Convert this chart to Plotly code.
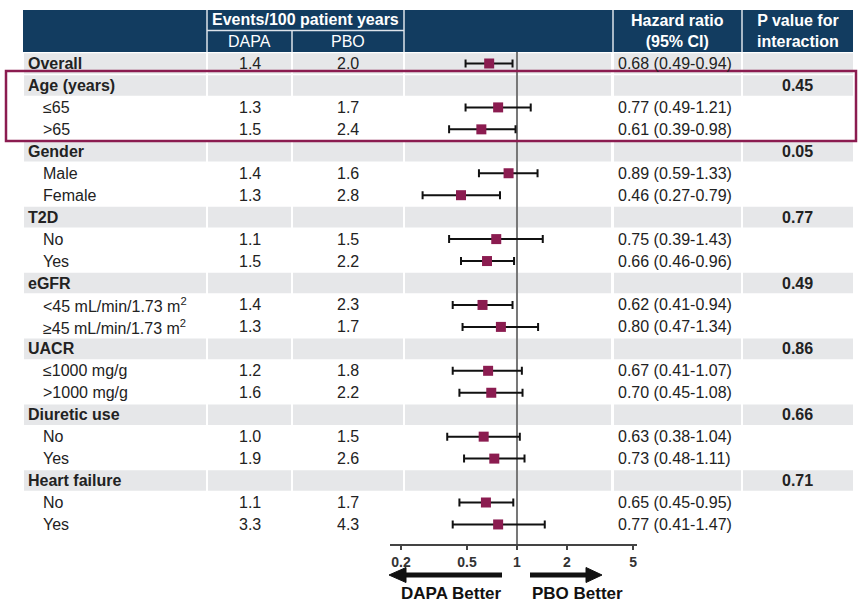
import math
import plotly.graph_objects as go

W, H = 858, 603

# ---------------- data ----------------
labels = ["Overall", "Age (years)", "≤65", "&gt;65", "Gender", "Male", "Female",
          "T2D", "No", "Yes", "eGFR", "&lt;45 mL/min/1.73 m<sup>2</sup>",
          "≥45 mL/min/1.73 m<sup>2</sup>", "UACR", "≤1000 mg/g", "&gt;1000 mg/g",
          "Diuretic use", "No", "Yes", "Heart failure", "No", "Yes"]
row_kind = ["H", "H", "S", "S", "H", "S", "S", "H", "S", "S", "H", "S", "S",
            "H", "S", "S", "H", "S", "S", "H", "S", "S"]
dapa = ["1.4", "", "1.3", "1.5", "", "1.4", "1.3", "", "1.1", "1.5", "", "1.4",
        "1.3", "", "1.2", "1.6", "", "1.0", "1.9", "", "1.1", "3.3"]
pbo = ["2.0", "", "1.7", "2.4", "", "1.6", "2.8", "", "1.5", "2.2", "", "2.3",
       "1.7", "", "1.8", "2.2", "", "1.5", "2.6", "", "1.7", "4.3"]
hr = [0.68, None, 0.77, 0.61, None, 0.89, 0.46, None, 0.75, 0.66, None, 0.62,
      0.80, None, 0.67, 0.70, None, 0.63, 0.73, None, 0.65, 0.77]
ci_lo = [0.49, None, 0.49, 0.39, None, 0.59, 0.27, None, 0.39, 0.46, None, 0.41,
         0.47, None, 0.41, 0.45, None, 0.38, 0.48, None, 0.45, 0.41]
ci_hi = [0.94, None, 1.21, 0.98, None, 1.33, 0.79, None, 1.43, 0.96, None, 0.94,
         1.34, None, 1.07, 1.08, None, 1.04, 1.11, None, 0.95, 1.47]
pval = ["", "0.45", "", "", "0.05", "", "", "0.77", "", "", "0.49", "", "",
        "0.86", "", "", "0.66", "", "", "0.71", "", ""]
tick_vals = [0.2, 0.5, 1, 2, 5]
tick_text = ["0.2", "0.5", "1", "2", "5"]

# ---------------- layout helpers ----------------
FONT = "Arial, 'Liberation Sans', sans-serif"
NAVY = "#123c60"
GRAY = "#e6e7e9"
MAROON = "#8b1c50"
TXT = "#222222"
ROW0, STEP = 63.5, 21.95
n = len(labels)


def px(p):
    return p / W


def py(p):
    return 1 - p / H


cols = [(24, 206), (208, 291), (293, 403), (405, 611), (614, 741), (743, 853)]

fig = go.Figure()

idx = [i for i in range(n) if hr[i] is not None]
fig.add_trace(go.Scatter(
    x=[hr[i] for i in idx], y=idx, mode="markers",
    marker=dict(symbol="square", size=10, color=MAROON),
    error_x=dict(type="data", symmetric=False,
                 array=[ci_hi[i] - hr[i] for i in idx],
                 arrayminus=[hr[i] - ci_lo[i] for i in idx],
                 color="#111111", thickness=2, width=4),
    hoverinfo="skip", showlegend=False))

shapes = []
# header
shapes.append(dict(type="rect", xref="paper", yref="paper", x0=px(23), x1=px(853),
                   y0=py(52), y1=py(10), fillcolor=NAVY, line_width=0, layer="below"))
for xx in (207, 404, 613, 742):
    shapes.append(dict(type="line", xref="paper", yref="paper", x0=px(xx), x1=px(xx),
                       y0=py(52), y1=py(10), line=dict(color="#dde3ea", width=1.5)))
shapes.append(dict(type="line", xref="paper", yref="paper", x0=px(207), x1=px(404),
                   y0=py(30.5), y1=py(30.5), line=dict(color="#dde3ea", width=1.5)))
shapes.append(dict(type="line", xref="paper", yref="paper", x0=px(292), x1=px(292),
                   y0=py(52), y1=py(30.5), line=dict(color="#dde3ea", width=1.5)))
# gray bands
for i in range(n):
    if row_kind[i] == "H":
        for a, b in cols:
            shapes.append(dict(type="rect", xref="paper", yref="y", x0=px(a), x1=px(b),
                               y0=i - 0.47, y1=i + 0.47, fillcolor=GRAY, line_width=0,
                               layer="below"))
# reference line at HR = 1
shapes.append(dict(type="line", xref="x", yref="paper", x0=1, x1=1, y0=py(545), y1=py(52),
                   line=dict(color="#777777", width=2), layer="below"))
# highlight box around age rows
shapes.append(dict(type="rect", xref="paper", yref="paper", x0=px(6), x1=px(856),
                   y0=py(141), y1=py(71), line=dict(color=MAROON, width=2.5)))

# direction arrows (decorative shapes)
AY = 575
shapes.append(dict(type="line", xref="paper", yref="paper", x0=px(404), x1=px(502),
                   y0=py(AY), y1=py(AY), line=dict(color="#111111", width=5)))
shapes.append(dict(type="path", xref="paper", yref="paper",
                   path=f"M {px(389)},{py(AY)} L {px(406)},{py(AY - 7.5)} L {px(406)},{py(AY + 7.5)} Z",
                   fillcolor="#111111", line=dict(color="#111111", width=1)))
shapes.append(dict(type="line", xref="paper", yref="paper", x0=px(530), x1=px(588),
                   y0=py(AY), y1=py(AY), line=dict(color="#111111", width=5)))
shapes.append(dict(type="path", xref="paper", yref="paper",
                   path=f"M {px(602)},{py(AY)} L {px(586)},{py(AY - 7.5)} L {px(586)},{py(AY + 7.5)} Z",
                   fillcolor="#111111", line=dict(color="#111111", width=1)))

ann = []


def txt(x, y, s, anchor="center", bold=False, size=16, color=TXT, yref="y"):
    ann.append(dict(x=x, y=y, xref="paper", yref=yref, text=f"<b>{s}</b>" if bold else s,
                    showarrow=False, xanchor=anchor, yanchor="middle",
                    font=dict(family=FONT, size=size, color=color)))


# header texts
txt(px(305.5), py(20), "Events/100 patient years", bold=True, color="white", yref="paper")
txt(px(249.5), py(41.5), "DAPA", color="white", yref="paper")
txt(px(348), py(41.5), "PBO", color="white", yref="paper")
txt(px(677.5), py(31), "Hazard ratio<br>(95% CI)", bold=True, color="white", yref="paper")
txt(px(797.5), py(31), "P value for<br>interaction", bold=True, color="white", yref="paper")

for i in range(n):
    if row_kind[i] == "H":
        txt(px(26), i, labels[i], anchor="left", bold=True)
    else:
        txt(px(41), i, labels[i], anchor="left")
    if dapa[i]:
        txt(px(249.5), i, dapa[i])
    if pbo[i]:
        txt(px(348), i, pbo[i])
    if hr[i] is not None:
        txt(px(616), i, f"{hr[i]:.2f} ({ci_lo[i]:.2f}-{ci_hi[i]:.2f})", anchor="left")
    if pval[i]:
        txt(px(797.5), i, pval[i], bold=True)

txt(px(451), py(593), "DAPA Better", bold=True, size=17, color="#111111", yref="paper")
txt(px(577), py(593), "PBO Better", bold=True, size=17, color="#111111", yref="paper")

lo_log = math.log10(0.2) - 0.066
hi_log = math.log10(5) + 0.024

fig.update_layout(
    width=W, height=H, autosize=False,
    margin=dict(l=0, r=0, t=0, b=0),
    paper_bgcolor="white", plot_bgcolor="rgba(0,0,0,0)",
    shapes=shapes, annotations=ann,
    xaxis=dict(type="log", range=[lo_log, hi_log], domain=[px(390), px(637)],
               anchor="free", position=py(545), showgrid=False, zeroline=False,
               showline=True, linecolor="#444444", linewidth=1.5,
               ticks="outside", ticklen=4, tickwidth=1.5, tickcolor="#444444",
               tickvals=tick_vals, ticktext=[f"<b>{t}</b>" for t in tick_text],
               tickfont=dict(family=FONT, size=14, color="#333333")),
    yaxis=dict(range=[(H - ROW0) / STEP, -ROW0 / STEP], domain=[0, 1], visible=False,
               showgrid=False, zeroline=False),
    showlegend=False,
)

fig.write_html("out.html")
